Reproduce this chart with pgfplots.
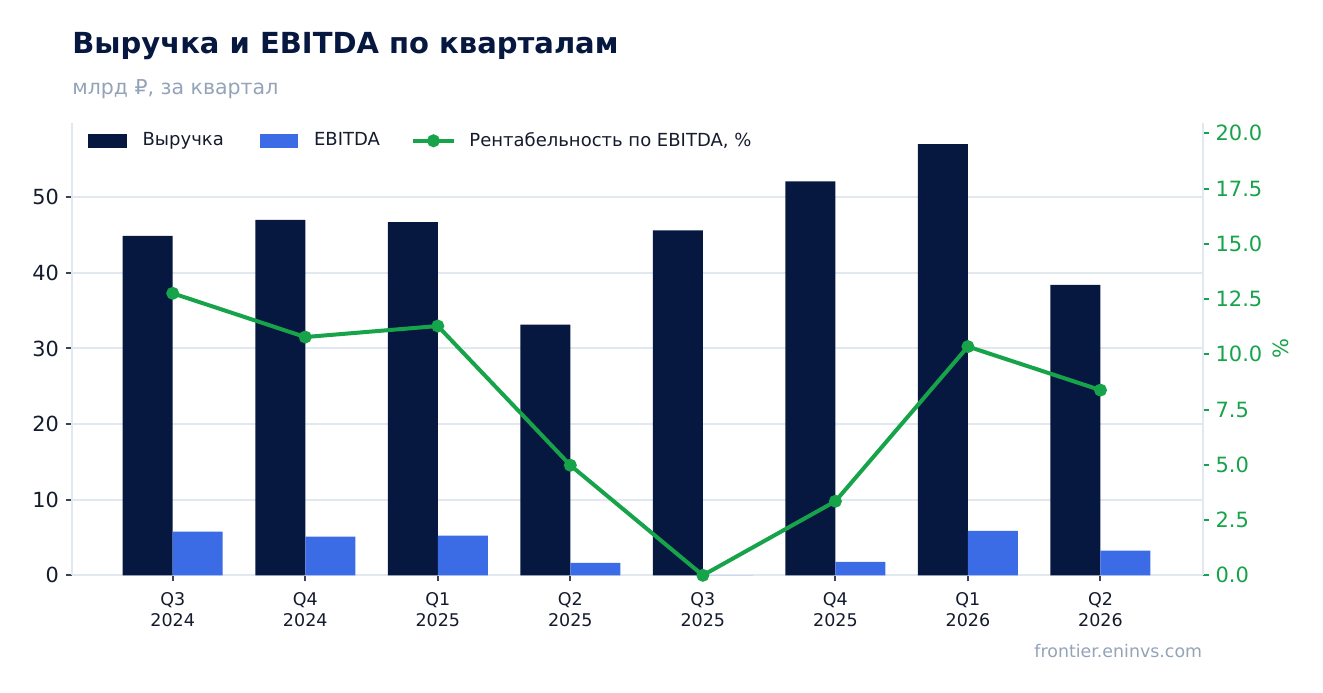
\documentclass[border=0pt]{standalone}
\usepackage{fontspec}
\setmainfont{DejaVu Sans}
\usepackage{pgfplots}
\pgfplotsset{compat=1.18}

\definecolor{navy}{HTML}{061740}
\definecolor{ebitda}{HTML}{3B6CE6}
\definecolor{margin}{HTML}{16A34A}
\definecolor{gridc}{HTML}{E2E8F0}
\definecolor{muted}{HTML}{94A3B8}
\definecolor{ink}{HTML}{141B2D}
\definecolor{tickc}{HTML}{3A4254}

\pgfplotsset{
  base/.style={
    scale only axis, width=565.25bp, height=226.3bp,
    at={(0,0)}, anchor=south west,
    xmin=-0.76, xmax=7.77,
    tick align=outside, major tick length=3bp,
    axis line style={draw=gridc, line width=1bp},
    /pgf/number format/assume math mode=true,
  },
}

\begin{document}
\begin{tikzpicture}
\useasboundingbox (-36bp,-58.85bp) rectangle (625.5bp,287.65bp);

\begin{axis}[base,
  axis x line*=bottom, axis y line*=left,
  ymin=0, ymax=59.85,
  ybar=0pt, bar width=25bp,
  xtick={0,1,2,3,4,5,6,7},
  xticklabels={{Q3\\2024},{Q4\\2024},{Q1\\2025},{Q2\\2025},{Q3\\2025},{Q4\\2025},{Q1\\2026},{Q2\\2026}},
  xticklabel style={align=center, font=\fontsize{8.75bp}{10.5bp}\selectfont, text=ink, yshift=-2bp},
  ytick={0,10,20,30,40,50},
  yticklabel style={font=\fontsize{10.4bp}{12bp}\selectfont, text=ink},
  ymajorgrids, grid style={draw=gridc, line width=1bp},
  every tick/.style={draw=tickc, line width=1bp},
]
% выручка
\addplot[fill=navy, draw=none] coordinates {
  (0,44.9) (1,47.0) (2,46.7) (3,33.15) (4,45.6) (5,52.1) (6,57.0) (7,38.4)
};
% EBITDA
\addplot[fill=ebitda, draw=none] coordinates {
  (0,5.77) (1,5.1) (2,5.24) (3,1.63) (4,0) (5,1.76) (6,5.87) (7,3.26)
};
\end{axis}

\begin{axis}[base,
  hide x axis, axis y line*=right,
  ymin=0, ymax=20.48,
  ytick={0,2.5,5,7.5,10,12.5,15,17.5,20},
  /pgf/number format/fixed, /pgf/number format/fixed zerofill,
  /pgf/number format/precision=1,
  yticklabel style={font=\fontsize{10.5bp}{12bp}\selectfont, text=margin},
  every tick/.style={draw=margin, line width=1bp},
  ylabel={\%},
  ylabel style={font=\fontsize{10.5bp}{12bp}\selectfont, text=margin,
    at={(axis description cs:1.069,0.5)}, anchor=center},
  legend style={draw=none, fill=none, inner sep=0pt,
    at={(axis description cs:0.0141,0.96)}, anchor=west,
    font=\fontsize{9bp}{10bp}\selectfont, text=ink,
    legend columns=-1, nodes={inner sep=0pt},
    /tikz/every odd column/.append style={column sep=8bp},
    /tikz/every even column/.append style={column sep=18bp}},
]
\addlegendimage{legend image code/.code={\fill[navy] (0bp,-3.1bp) rectangle (18.75bp,3.1bp);}}
\addlegendentry{Выручка}
\addlegendimage{legend image code/.code={\fill[ebitda] (0bp,-3.1bp) rectangle (18.75bp,3.1bp);}}
\addlegendentry{EBITDA}
\addplot[margin, line width=2bp, mark=*, mark size=2.2bp,
  mark options={draw=none, fill=margin},
  legend image code/.code={
    \path[draw=none, fill=none] (0bp,-3.1bp) rectangle (18.75bp,3.1bp);
    \draw[overlay, margin, line width=2bp] (-1.5bp,0bp) -- (19bp,0bp);
    \fill[overlay, margin] (8.75bp,0bp) circle (2.2bp);}]
  coordinates {
  (0,12.76) (1,10.78) (2,11.28) (3,4.98) (4,0) (5,3.35) (6,10.35) (7,8.38)
};
\addlegendentry{Рентабельность по EBITDA, \%}
\end{axis}

\node[anchor=base west, inner sep=0pt, font=\fontsize{14.5bp}{17bp}\selectfont\bfseries, text=navy]
  at (0bp,260.9bp) {Выручка и EBITDA по кварталам};
\node[anchor=base west, inner sep=0pt, font=\fontsize{10.25bp}{12bp}\selectfont, text=muted]
  at (0bp,240.5bp) {млрд ₽, за квартал};
\node[anchor=base east, inner sep=0pt, font=\fontsize{8.7bp}{10bp}\selectfont, text=muted]
  at (565.25bp,-41.2bp) {frontier.eninvs.com};
\end{tikzpicture}
\end{document}
